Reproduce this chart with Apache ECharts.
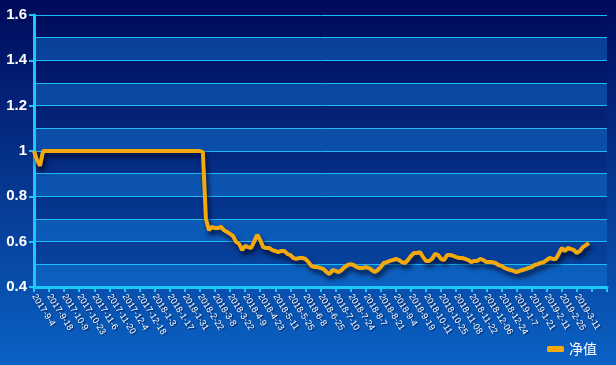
<!DOCTYPE html>
<html>
<head>
<meta charset="utf-8">
<script src="https://cdn.jsdelivr.net/npm/echarts@6/dist/echarts.min.js"></script>
<style>
html,body{margin:0;padding:0;background:#000a5a;}
#chart{width:616px;height:365px;}
</style>
</head>
<body>
<div id="chart"></div>
<script>
// Tick labels shown every 10 trading days (one category = 2 trading days)
const tickLabels = [
  '2017-9-4','2017-9-18','2017-10-9','2017-10-23','2017-11-6','2017-11-20','2017-12-4','2017-12-18',
  '2018-1-3','2018-1-17','2018-1-31','2018-2-22','2018-3-8','2018-3-22','2018-4-9','2018-4-23',
  '2018-5-11','2018-5-25','2018-6-8','2018-6-25','2018-7-10','2018-7-24','2018-8-7','2018-8-21',
  '2018-9-4','2018-9-19','2018-10-11','2018-10-25','2018-11-08','2018-11-22','2018-12-06','2018-12-24',
  '2019-1-7','2019-1-21','2019-2-11','2019-2-25','2019-3-11'
];
const seriesName = '净值';
// Net value, one value every 2 trading days
const navValues = [
  1.00,0.96,0.935,1.00,1.00,1.00,1.00,1.00,1.00,1.00,
  1.00,1.00,1.00,1.00,1.00,1.00,1.00,1.00,1.00,1.00,
  1.00,1.00,1.00,1.00,1.00,1.00,1.00,1.00,1.00,1.00,
  1.00,1.00,1.00,1.00,1.00,1.00,1.00,1.00,1.00,1.00,
  1.00,1.00,1.00,1.00,1.00,1.00,1.00,1.00,1.00,1.00,
  1.00,1.00,1.00,1.00,1.00,1.00,0.995,0.70,0.651,0.665,
  0.66,0.66,0.665,0.651,0.643,0.634,0.625,0.599,0.59,0.563,
  0.581,0.576,0.572,0.60,0.63,0.607,0.576,0.572,0.572,0.563,
  0.559,0.554,0.559,0.559,0.546,0.541,0.528,0.524,0.528,0.528,
  0.524,0.51,0.493,0.488,0.488,0.484,0.479,0.466,0.457,0.475,
  0.471,0.466,0.475,0.488,0.497,0.501,0.497,0.488,0.484,0.484,
  0.488,0.484,0.475,0.466,0.475,0.488,0.506,0.51,0.515,0.519,
  0.524,0.519,0.51,0.506,0.519,0.537,0.55,0.55,0.554,0.532,
  0.515,0.515,0.524,0.546,0.541,0.524,0.519,0.541,0.541,0.537,
  0.532,0.528,0.528,0.524,0.519,0.51,0.515,0.515,0.524,0.519,
  0.51,0.51,0.51,0.506,0.497,0.493,0.484,0.479,0.475,0.471,
  0.466,0.471,0.475,0.479,0.484,0.488,0.497,0.501,0.506,0.51,
  0.519,0.528,0.524,0.524,0.546,0.572,0.559,0.572,0.568,0.563,
  0.55,0.559,0.576,0.585,0.594
];
const categoryCount = 191;
const categories = [];
for (let i = 0; i < categoryCount; i++) categories.push(String(i));

const chart = echarts.init(document.getElementById('chart'), null, {renderer: 'canvas'});
const cyan = '#1cc8f8';
chart.setOption({
  animation: false,
  backgroundColor: {
    type: 'linear', x: 0, y: 0, x2: 0, y2: 1,
    colorStops: [{offset: 0, color: '#010a5a'}, {offset: 1, color: '#0a62c4'}]
  },
  grid: {left: 34, right: 9, top: 15, bottom: 78, containLabel: false},
  legend: {
    data: [seriesName], right: 14, bottom: 4,
    icon: 'roundRect', itemWidth: 17, itemHeight: 6, itemGap: 10,
    textStyle: {color: '#ffffff', fontSize: 14, fontFamily: 'Noto Sans CJK SC'}
  },
  xAxis: {
    type: 'category', data: categories, boundaryGap: false,
    axisLine: {show: true, lineStyle: {color: cyan, width: 3}},
    axisTick: {show: true, interval: 4, length: 5, lineStyle: {color: cyan, width: 2}},
    axisLabel: {
      interval: 4, rotate: -58, color: '#ffffff', fontSize: 9, margin: 8,
      fontFamily: 'Liberation Sans',
      textShadowColor: 'rgba(0,0,40,0.7)', textShadowBlur: 1, textShadowOffsetX: 1, textShadowOffsetY: 1,
      formatter: function (v, idx) { return idx % 5 === 0 ? (tickLabels[idx / 5] || '') : ''; }
    },
    splitLine: {show: false}
  },
  yAxis: [
    {
      type: 'value', min: 0.4, max: 1.6, interval: 0.2, position: 'left',
      axisLine: {show: true, lineStyle: {color: cyan, width: 3}},
      axisTick: {show: true, length: 5, lineStyle: {color: cyan, width: 2}},
      axisLabel: {color: '#ffffff', fontSize: 15, fontWeight: 'bold', margin: 7, fontFamily: 'Liberation Sans',
        formatter: function (v) { return String(Math.round(v * 10) / 10); }},
      splitLine: {show: false}
    },
    {
      type: 'value', min: 0.4, max: 1.6, interval: 0.1, position: 'left',
      axisLine: {show: false}, axisTick: {show: false}, axisLabel: {show: false},
      splitLine: {show: true, lineStyle: {color: '#1cbcf4', width: 1}},
      splitArea: {show: true, areaStyle: {color: ['rgba(20,120,215,0.45)', 'rgba(0,10,80,0.12)']}}
    }
  ],
  series: [{
    name: seriesName, type: 'line', data: navValues, yAxisIndex: 0,
    symbol: 'none', smooth: false,
    lineStyle: {color: '#f3a90c', width: 4, shadowColor: 'rgba(0,0,30,0.8)', shadowBlur: 5, shadowOffsetX: 2, shadowOffsetY: 4},
    itemStyle: {color: '#f3a90c'}
  }]
});
</script>
</body>
</html>
